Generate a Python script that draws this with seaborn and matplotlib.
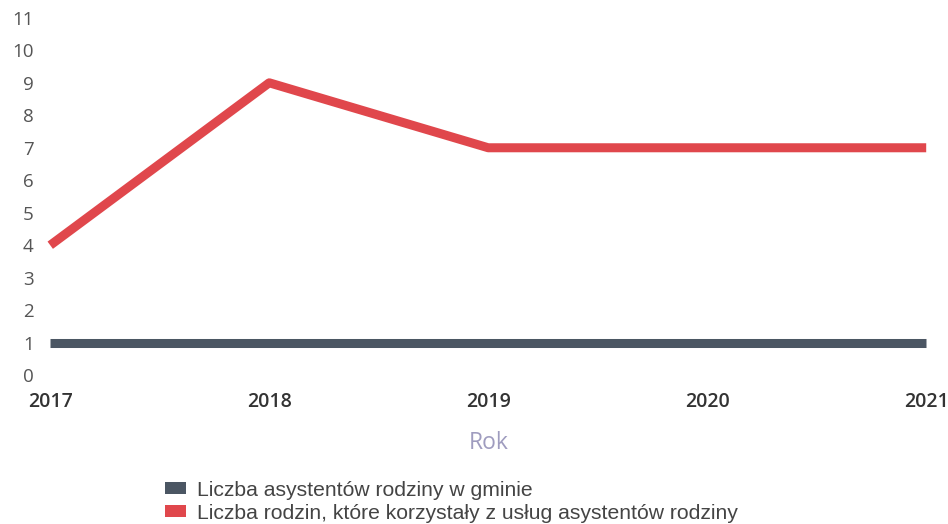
import matplotlib
matplotlib.use("Agg")
import matplotlib.pyplot as plt
from matplotlib.patches import Patch
import seaborn as sns
import pandas as pd

years = [2017, 2018, 2019, 2020, 2021]
asystenci = [1, 1, 1, 1, 1]
rodziny = [4, 9, 7, 7, 7]
series_names = ["Liczba asystentów rodziny w gminie",
                "Liczba rodzin, które korzystały z usług asystentów rodziny"]
colors = ["#4b5663", "#e0474c"]
yticks = list(range(0, 12))

df = pd.DataFrame({
    "Rok": years * 2,
    "value": asystenci + rodziny,
    "series": [series_names[0]] * len(years) + [series_names[1]] * len(years),
})

sns.set_theme(style="white")
plt.rcParams['font.family'] = ['Open Sans', 'DejaVu Sans']

fig = plt.figure(figsize=(9.48, 5.24), dpi=100)
ax = fig.add_axes([0.053, 0.284, 0.924, 0.682])

sns.lineplot(data=df, x="Rok", y="value", hue="series", palette=colors,
             linewidth=6.5, ax=ax, legend=False, solid_capstyle="butt",
             solid_joinstyle="round")
for line in ax.lines:
    line.set_clip_on(False)

ax.set_xlim(2017, 2021)
ax.set_ylim(0, 11)
ax.set_yticks(yticks)
ax.set_yticklabels([str(v) for v in yticks], fontsize=13.5, color="#555555")
ax.set_xticks(years)
ax.set_xticklabels([str(y) for y in years], fontsize=14, color="#333333",
                   fontweight="semibold")
ax.tick_params(axis="y", length=0, pad=12)
ax.tick_params(axis="x", length=0, pad=12)
for s in ax.spines.values():
    s.set_visible(False)
ax.set_ylabel("")
ax.set_xlabel("Rok", fontsize=16.5, color="#9f9cbf", labelpad=14)

handles = [Patch(facecolor=c, edgecolor="none") for c in colors]
fig.legend(handles, series_names, loc="upper left",
           bbox_to_anchor=(0.174, 0.083), frameon=False,
           prop={"family": "Liberation Sans", "size": 15.2},
           labelcolor="#444444", handlelength=1.0, handleheight=0.5,
           handletextpad=0.5, labelspacing=0.2, borderpad=0, borderaxespad=0)

fig.savefig("out.png", dpi=100)
